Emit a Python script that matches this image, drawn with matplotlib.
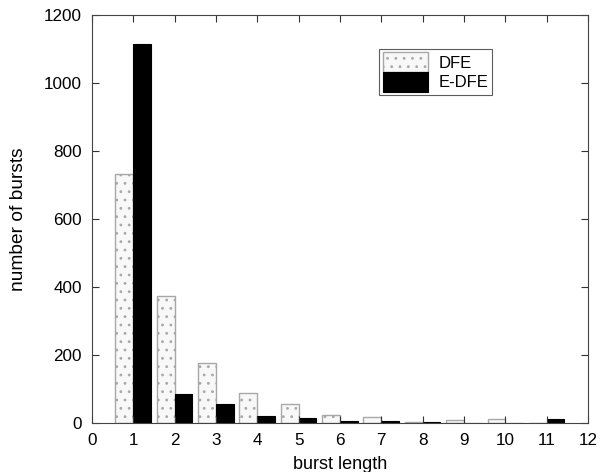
import matplotlib
matplotlib.use("Agg")
import matplotlib.pyplot as plt
import numpy as np

plt.rcParams['font.family'] = ['Liberation Sans', 'DejaVu Sans']
plt.rcParams['hatch.linewidth'] = 0.8

burst_length = [1, 2, 3, 4, 5, 6, 7, 8, 9, 10, 11]
dfe = [731, 374, 175, 89, 55, 23, 17, 3, 9, 12, 0]
edfe = [1114, 84, 55, 21, 14, 7, 6, 2, 1, 0, 12]
xticks = list(range(0, 13))
yticks = [0, 200, 400, 600, 800, 1000, 1200]

fig = plt.figure(figsize=(6.0, 4.72), dpi=100)
ax = fig.add_axes([0.153, 0.104, 0.827, 0.864])

x = np.array(burst_length, dtype=float)
w = 0.43
ax.bar(x - w / 2, dfe, width=w, facecolor='#f8f8f8', edgecolor='#a8a8a8',
       hatch='..', linewidth=1.0, label='DFE')
ax.bar(x + w / 2, edfe, width=w, facecolor='black', edgecolor='black',
       linewidth=0.8, label='E-DFE')

ax.set_xlim(0, 12)
ax.set_ylim(0, 1200)
ax.set_xticks(xticks)
ax.set_yticks(yticks)
ax.tick_params(direction='in', top=True, right=True, length=5, width=0.8,
               colors='#333333', labelcolor='black', labelsize=12.3, pad=7)
for s in ax.spines.values():
    s.set_color('#444444')
    s.set_linewidth(0.8)

ax.set_xlabel('burst length', fontsize=13, labelpad=6)
ax.set_ylabel('number of bursts', fontsize=13.8, labelpad=12)

leg = ax.legend(loc='upper right', bbox_to_anchor=(0.806, 0.917), fontsize=12,
                handlelength=2.7, handleheight=1.45, labelspacing=0.0,
                handletextpad=0.65, borderpad=0.2, borderaxespad=0.0,
                fancybox=False, frameon=True)
leg.get_frame().set_edgecolor('#333333')
leg.get_frame().set_linewidth(0.8)

fig.savefig('out.png', dpi=100, facecolor='white')
